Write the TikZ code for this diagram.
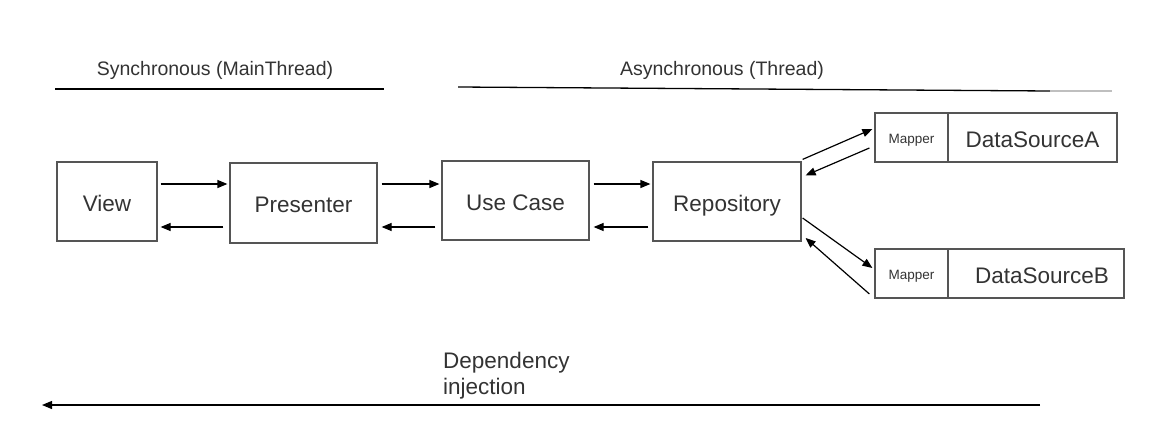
\documentclass[tikz,border=0pt]{standalone}
\usepackage{fontspec}
\setmainfont{Liberation Sans}
\usetikzlibrary{arrows.meta}
\definecolor{txt}{HTML}{333333}
\definecolor{boxline}{HTML}{555555}
\tikzset{
  box/.style={draw=boxline, line width=1.2pt, text=txt, inner sep=0pt, text height=19pt, text depth=0pt, font=\fontsize{22.5}{26}\selectfont},
  mapbox/.style={draw=boxline, line width=1.2pt, text=txt, inner sep=0pt, text height=12.6pt, text depth=0pt, font=\fontsize{13.5}{16}\selectfont},
  arr/.style={-{Triangle[length=10pt,width=8pt]}, line width=1.2pt, black},
  title/.style={text=txt, inner sep=0pt, font=\fontsize{19.5}{22}\selectfont},
}
\begin{document}
\begin{tikzpicture}[x=1pt,y=-1pt]
\useasboundingbox (0,0) rectangle (1150,436);
% titles
\node[title] (sync) at (215,70) {Synchronous (MainThread)};
\node[title] (async) at (722,70) {Asynchronous (Thread)};
\coordinate (s1) at (55,89); \coordinate (s2) at (384,89);
\draw[line width=1.3pt, black] (s1) -- (s2);
\coordinate (a1) at (458,87); \coordinate (a2) at (1050,91); \coordinate (a3) at (1112,91);
\draw[line width=1.3pt, black] (a1) -- (a2);
\draw[line width=1.3pt, black!25] (a2) -- (a3);
% boxes
\node[box, minimum width=100pt, minimum height=79pt] (view) at (107,201.5) {View};
\node[box, minimum width=147pt, minimum height=80pt] (pres) at (303.5,203) {Presenter};
\node[box, minimum width=147pt, minimum height=79pt] (uc) at (515.5,200.5) {Use Case};
\node[box, minimum width=148pt, minimum height=79pt] (repo) at (727,201.5) {Repository};
\node[mapbox, minimum width=73pt, minimum height=49pt] (mapA) at (911.5,137.5) {Mapper};
\node[box, minimum width=169pt, minimum height=49pt] (dsA) at (1032.5,137.5) {DataSourceA};
\node[mapbox, minimum width=73pt, minimum height=49pt] (mapB) at (911.5,273.5) {Mapper};
\node[box, minimum width=176pt, minimum height=49pt] (dsB) at (1036,273.5) {\hspace*{12pt}DataSourceB};
% horizontal arrows
\coordinate (top) at (0,184); \coordinate (bot) at (0,227);
\draw[arr, shorten <=3pt, shorten >=2pt] (view.east |- top) -- (pres.west |- top);
\draw[arr, shorten <=6pt, shorten >=3pt] (pres.west |- bot) -- (view.east |- bot);
\draw[arr, shorten <=4pt, shorten >=2pt] (pres.east |- top) -- (uc.west |- top);
\draw[arr, shorten <=6pt, shorten >=4pt] (uc.west |- bot) -- (pres.east |- bot);
\draw[arr, shorten <=4pt, shorten >=2pt] (uc.east |- top) -- (repo.west |- top);
\draw[arr, shorten <=4pt, shorten >=4pt] (repo.west |- bot) -- (uc.east |- bot);
% diagonal arrows
\draw[arr] ([shift={(1,-2)}]repo.north east) -- ([shift={(-2,-8.5)}]mapA.west);
\draw[arr] ([shift={(-5,10.5)}]mapA.west) -- ([shift={(4,14)}]repo.north east);
\draw[arr] ([shift={(1,16.5)}]repo.east) -- ([shift={(-2,-5.5)}]mapB.west);
\draw[arr] ([shift={(-5,20.5)}]mapB.west) -- ([shift={(4,36.5)}]repo.east);
% dependency injection
\coordinate (d1) at (1040,405); \coordinate (d2) at (42,405);
\draw[arr] (d1) -- (d2);
\node[text=txt, inner sep=0pt, anchor=north west, align=left, font=\fontsize{22.5}{26}\selectfont] (dep) at (443,352) {Dependency\\injection};
\end{tikzpicture}
\end{document}
